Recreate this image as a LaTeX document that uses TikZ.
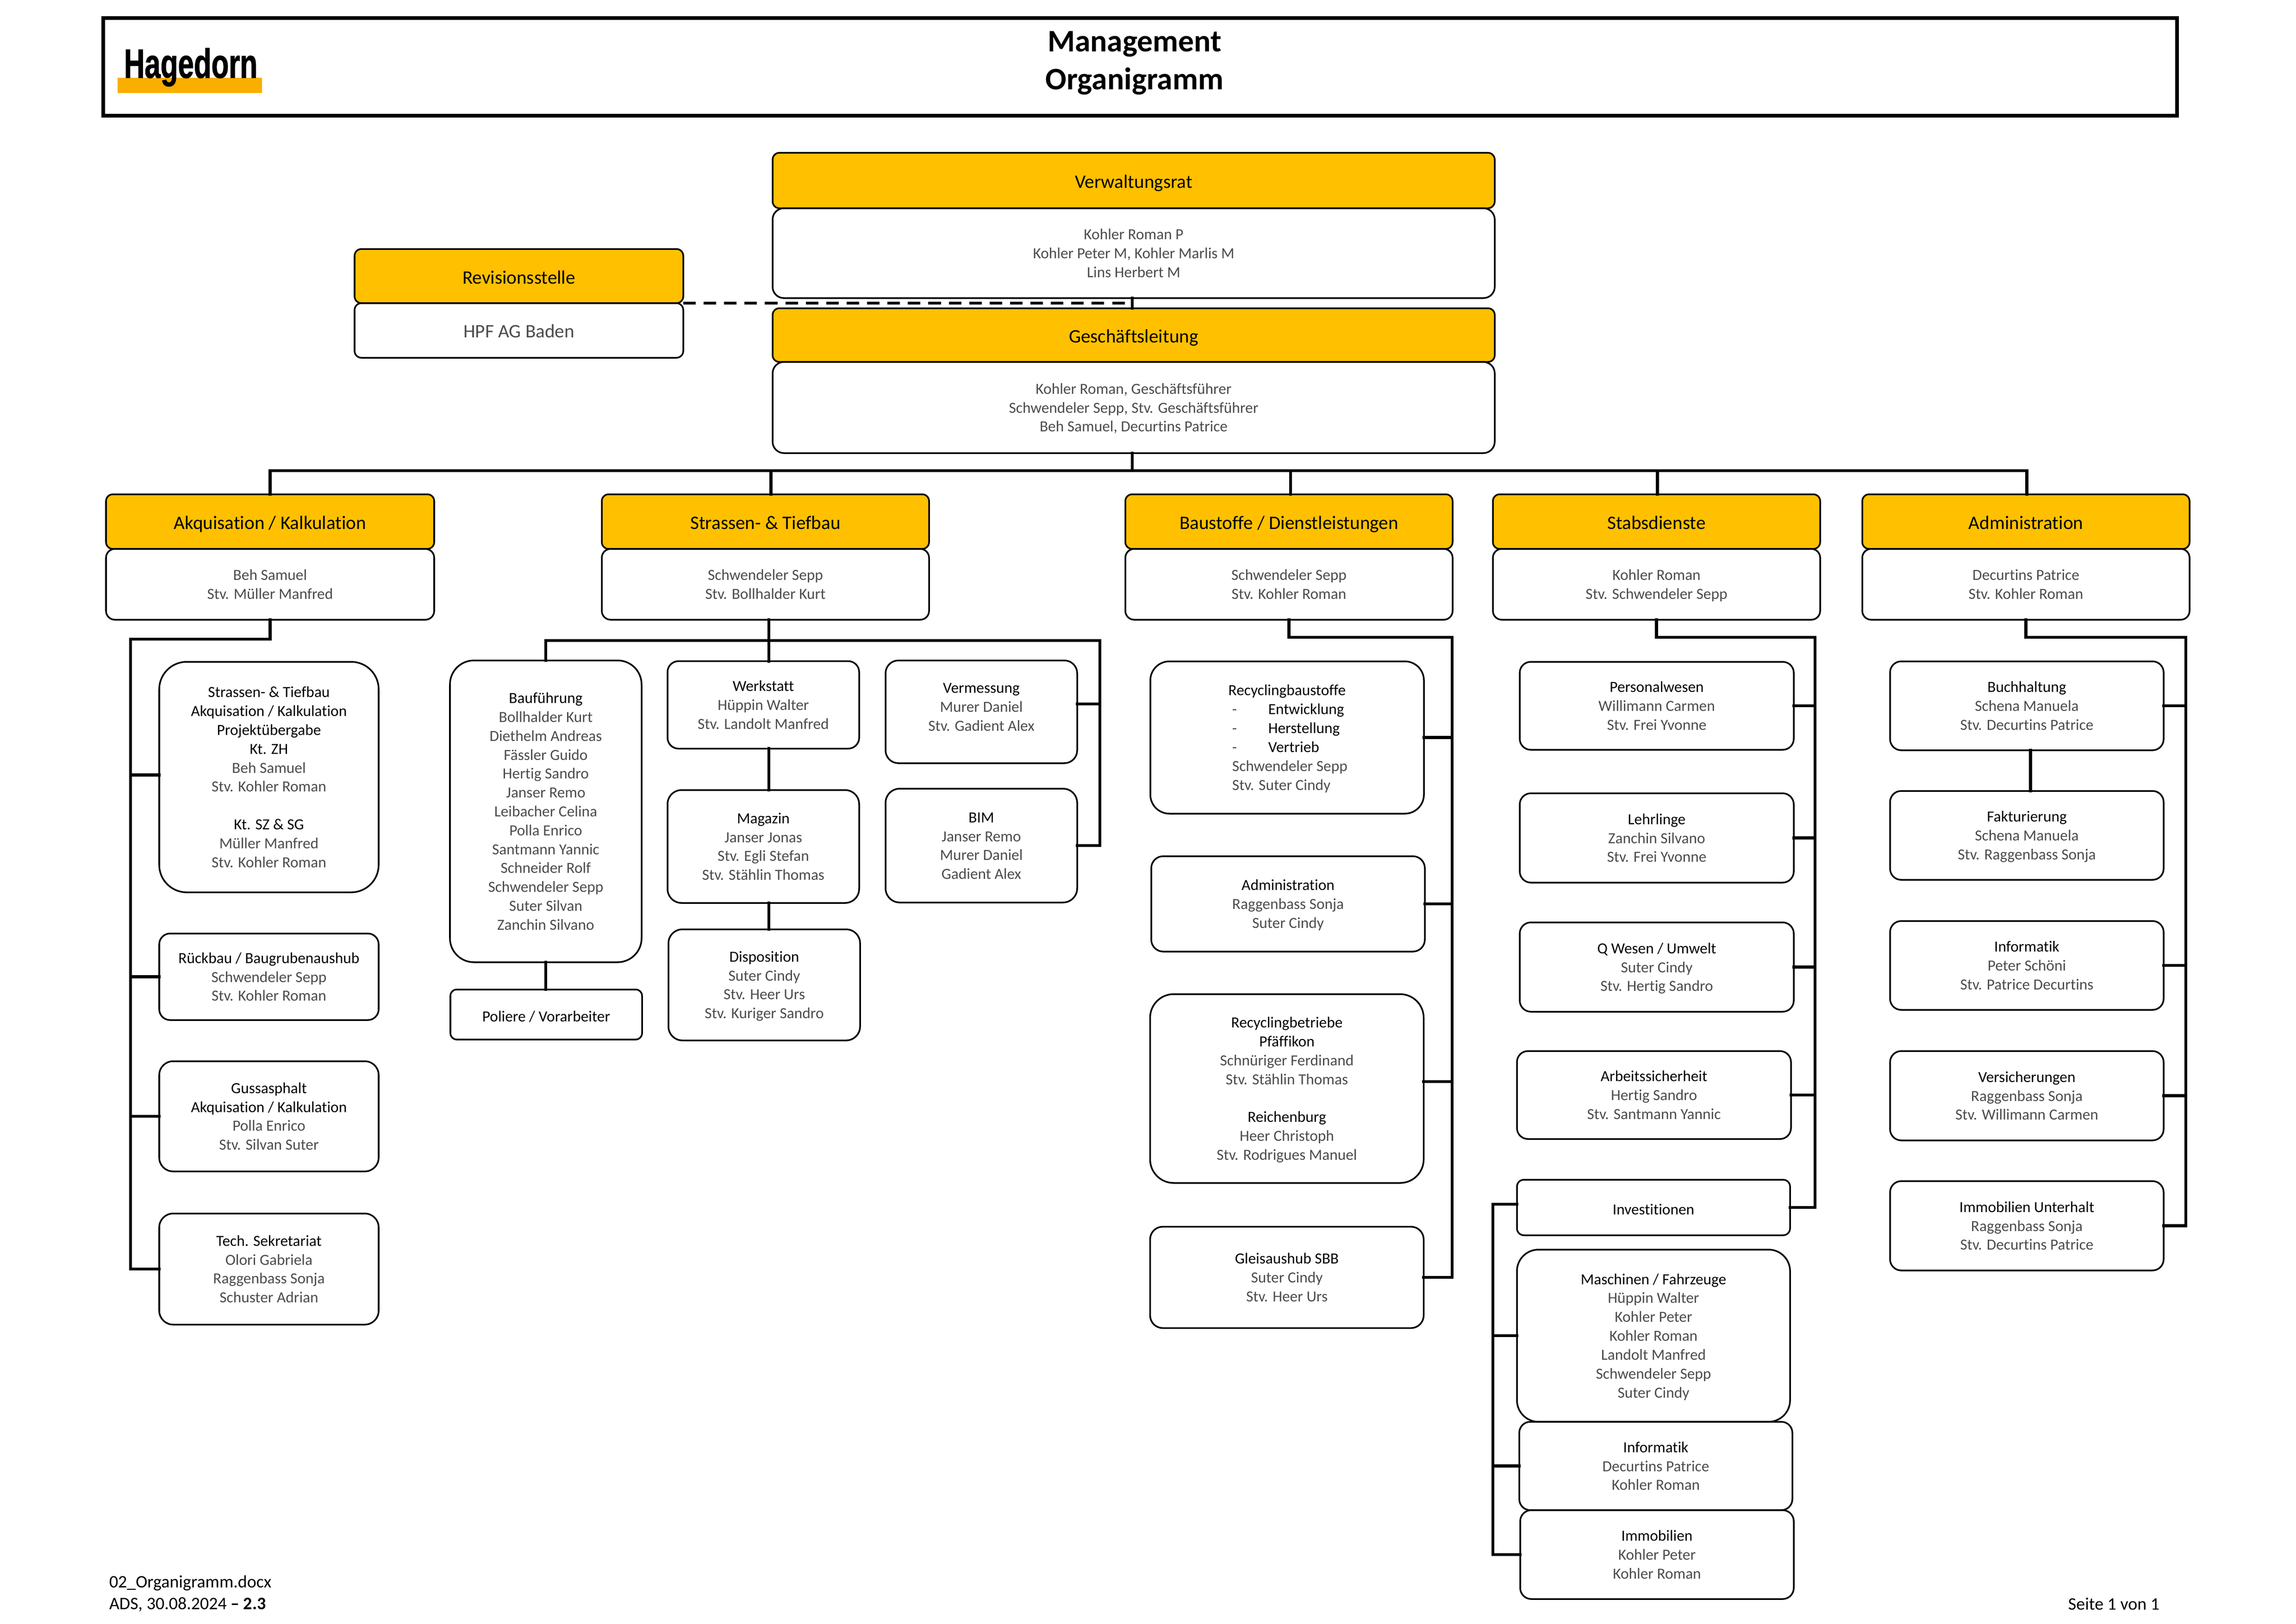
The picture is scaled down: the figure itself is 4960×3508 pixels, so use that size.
\documentclass[tikz,border=0pt]{standalone}
\usepackage{fontspec}
\setmainfont[Ligatures=NoCommon]{Carlito}
\newfontfamily\logofont[BoldFeatures={FakeBold=1.5}]{Liberation Sans}
\usetikzlibrary{positioning}
\definecolor{headyellow}{HTML}{FFC000}
\definecolor{logoorange}{HTML}{F9AE00}
\definecolor{namegrey}{gray}{0.3}
\newcommand{\ts}{\rule{0pt}{5pt}}
\newcommand{\hd}[1]{\ts\textcolor{black}{#1}}

\begin{document}
\begin{tikzpicture}[x=0.17pt, y=-0.17pt,
  wh/.style 2 args={minimum width=#1*0.17pt, minimum height=#2*0.17pt, rounded corners={0.125*min(#1,#2)*0.17pt}},
  block/.style={rectangle, draw, line width=0.6pt, fill=white, align=center, inner sep=0pt, outer sep=0pt, text=namegrey, font=\fontsize{5.67}{6.94}\selectfont, execute at begin node={\rule{0pt}{6.4pt}}, execute at end node={\rule[-1.1pt]{0pt}{1.1pt}}},
  head/.style={block, fill=headyellow, text=black, font=\fontsize{7}{8.5}\selectfont, execute at begin node={\rule{0pt}{6.7pt}}},
  conn/.style={line width=1.15pt, line cap=rect},
  plain/.style={inner sep=0pt, outer sep=0pt, align=left, font=\fontsize{6.45}{8}\selectfont},
]
   \useasboundingbox (0,0) rectangle (4960,3508);

   % title bar
   \node[draw, line width=1.4pt, minimum width=4480*0.17pt, minimum height=211*0.17pt, inner sep=0pt] (frame) at (2463,144.5) {};
   \node[align=center, inner sep=0pt, font=\fontsize{11.5}{14}\selectfont\bfseries] (title) at (2451,136) {Management\\Organigramm};
   \node[fill=logoorange, minimum width=312*0.17pt, minimum height=33*0.17pt, inner sep=0pt] (logobar) at (410,184.5) {};
   \node[inner sep=0pt, font=\logofont\bfseries\fontsize{15}{15}\selectfont, anchor=base] (logo) at (412,168) {\scalebox{0.7}[1]{Hagedorn}};

   % top of the chart
   \node[head, wh={1560}{120}] (vrh) at (2449,390) {Verwaltungsrat};
   \node[block, wh={1560}{194}, below=0pt of vrh] (vrb) {\ts Kohler Roman P\\Kohler Peter M, Kohler Marlis M\\Lins Herbert M};
   \node[head, wh={710}{117}] (revh) at (1121,596.5) {Revisionsstelle};
   \node[block, wh={710}{118}, below=0pt of revh, font=\fontsize{7}{8.5}\selectfont] (revb) {HPF AG Baden};
   \node[head, wh={1560}{116}] (glh) at (2449,724) {Geschäftsleitung};
   \node[block, wh={1560}{197}, below=0pt of glh] (glb) {\ts Kohler Roman, Geschäftsführer\\Schwendeler Sepp, Stv. Geschäftsführer\\Beh Samuel, Decurtins Patrice};

   % departments
   \node[head, wh={709}{118}] (akqh) at (583.5,1127) {Akquisation / Kalkulation};
   \node[block, wh={709}{153}, below=0pt of akqh] (akqb) {\ts Beh Samuel\\Stv. Müller Manfred};
   \node[head, wh={707}{118}] (strh) at (1653.5,1127) {Strassen- \& Tiefbau};
   \node[block, wh={707}{153}, below=0pt of strh] (strb) {\ts Schwendeler Sepp\\Stv. Bollhalder Kurt};
   \node[head, wh={707}{118}] (bsth) at (2784.5,1127) {Baustoffe / Dienstleistungen};
   \node[block, wh={707}{153}, below=0pt of bsth] (bstb) {\ts Schwendeler Sepp\\Stv. Kohler Roman};
   \node[head, wh={707}{118}] (stbh) at (3578.5,1127) {Stabsdienste};
   \node[block, wh={707}{153}, below=0pt of stbh] (stbb) {\ts Kohler Roman\\Stv. Schwendeler Sepp};
   \node[head, wh={707}{118}] (admh) at (4376.5,1127) {Administration};
   \node[block, wh={707}{153}, below=0pt of admh] (admb) {\ts Decurtins Patrice\\Stv. Kohler Roman};

   % Akquisation / Kalkulation
   \node[block, wh={474}{498}] (akq1) at (581,1679) {\hd{Strassen- \& Tiefbau}\\\hd{Akquisation / Kalkulation}\\\hd{Projektübergabe}\\\hd{Kt. ZH}\\Beh Samuel\\Stv. Kohler Roman\\[6.94pt]\hd{Kt. SZ \& SG}\\Müller Manfred\\Stv. Kohler Roman};
   \node[block, wh={474}{187}] (akq2) at (581,2110.5) {\hd{Rückbau / Baugrubenaushub}\\Schwendeler Sepp\\Stv. Kohler Roman};
   \node[block, wh={474}{238}] (akq3) at (581,2412) {\hd{Gussasphalt}\\\hd{Akquisation / Kalkulation}\\Polla Enrico\\Stv. Silvan Suter};
   \node[block, wh={474}{240}] (akq4) at (581,2742) {\hd{Tech. Sekretariat}\\Olori Gabriela\\Raggenbass Sonja\\Schuster Adrian};

   % Strassen- & Tiefbau
   \node[block, wh={414}{652}] (bfu) at (1179,1753) {\hd{Bauführung}\\Bollhalder Kurt\\Diethelm Andreas\\Fässler Guido\\Hertig Sandro\\Janser Remo\\Leibacher Celina\\Polla Enrico\\Santmann Yannic\\Schneider Rolf\\Schwendeler Sepp\\Suter Silvan\\Zanchin Silvano};
   \node[block, wh={414}{108}] (pol) at (1180,2192) {\hd{Poliere / Vorarbeiter}};
   \node[block, wh={414}{189}] (wer) at (1649,1523) {\hd{Werkstatt}\\Hüppin Walter\\Stv. Landolt Manfred};
   \node[block, wh={414}{244}] (mag) at (1649,1829) {\hd{Magazin}\\Janser Jonas\\Stv. Egli Stefan\\Stv. Stählin Thomas};
   \node[block, wh={414}{240}] (dis) at (1651,2128) {\hd{Disposition}\\Suter Cindy\\Stv. Heer Urs\\Stv. Kuriger Sandro};
   \node[block, wh={414}{222}] (vrm) at (2120,1538) {\hd{Vermessung}\\Murer Daniel\\Stv. Gadient Alex\\[-3.1pt]\mbox{}};
   \node[block, wh={414}{246}] (bim) at (2120,1827) {\hd{BIM}\\Janser Remo\\Murer Daniel\\Gadient Alex};

   % Baustoffe / Dienstleistungen
   \node[block, wh={591}{329}, align=left] (rec) at (2780.5,1593.5) {\hspace*{0.6pt}\hd{Recyclingbaustoffe}\\\hspace*{2pt}-\hspace{11.5pt}\hd{Entwicklung}\\\hspace*{2pt}-\hspace{11.5pt}\hd{Herstellung}\\\hspace*{2pt}-\hspace{11.5pt}\hd{Vertrieb}\\\hspace*{2pt}Schwendeler Sepp\\\hspace*{2pt}Stv. Suter Cindy};
   \node[block, wh={591}{206}] (bad) at (2782.5,1953) {\hd{Administration}\\Raggenbass Sonja\\Suter Cindy};
   \node[block, wh={591}{408}] (rbt) at (2780,2352) {\hd{Recyclingbetriebe}\\\hd{Pfäffikon}\\Schnüriger Ferdinand\\Stv. Stählin Thomas\\[6.94pt]\hd{Reichenburg}\\Heer Christoph\\Stv. Rodrigues Manuel};
   \node[block, wh={591}{219}] (gle) at (2780,2760) {\hd{Gleisaushub SBB}\\Suter Cindy\\Stv. Heer Urs};

   % Stabsdienste
   \node[block, wh={592}{190}] (per) at (3579,1525) {\hd{Personalwesen}\\Willimann Carmen\\Stv. Frei Yvonne};
   \node[block, wh={592}{193}] (leh) at (3579,1810.5) {\hd{Lehrlinge}\\Zanchin Silvano\\Stv. Frei Yvonne};
   \node[block, wh={592}{193}] (qwe) at (3579,2089.5) {\hd{Q Wesen / Umwelt}\\Suter Cindy\\Stv. Hertig Sandro};
   \node[block, wh={592}{190}] (arb) at (3573,2366) {\hd{Arbeitssicherheit}\\Hertig Sandro\\Stv. Santmann Yannic};
   \node[block, wh={590}{120}] (inv) at (3572,2609) {\hd{Investitionen}};
   \node[block, wh={590}{372}] (mas) at (3572,2886) {\hd{Maschinen / Fahrzeuge}\\Hüppin Walter\\Kohler Peter\\Kohler Roman\\Landolt Manfred\\Schwendeler Sepp\\Suter Cindy};
   \node[block, wh={590}{191}] (inf) at (3577,3167.5) {\hd{Informatik}\\Decurtins Patrice\\Kohler Roman};
   \node[block, wh={591}{192}] (imm) at (3579.5,3359) {\hd{Immobilien}\\Kohler Peter\\Kohler Roman};

   % Administration
   \node[block, wh={591}{192}] (buc) at (4378.5,1525) {\hd{Buchhaltung}\\Schena Manuela\\Stv. Decurtins Patrice};
   \node[block, wh={591}{192}] (fak) at (4378.5,1805) {\hd{Fakturierung}\\Schena Manuela\\Stv. Raggenbass Sonja};
   \node[block, wh={591}{192}] (ainf) at (4378.5,2086) {\hd{Informatik}\\Peter Schöni\\Stv. Patrice Decurtins};
   \node[block, wh={591}{193}] (vers) at (4378.5,2367.5) {\hd{Versicherungen}\\Raggenbass Sonja\\Stv. Willimann Carmen};
   \node[block, wh={591}{193}] (aimm) at (4378.5,2648.5) {\hd{Immobilien Unterhalt}\\Raggenbass Sonja\\Stv. Decurtins Patrice};

   % footer
   \node[plain, anchor=west] (docname) at (236,3443) {02\_Organigramm.docx\\ADS, 30.08.2024 \textbf{– 2.3}};
   \node[plain, anchor=east] (pageno) at (4665,3466) {Seite 1 von 1};

   % connectors, top
   \coordinate (topbus) at (2446,1017);
   \coordinate (sbus) at (1661,1384);
   \coordinate (srgt) at (2376,1384);
   \coordinate (brail) at (3137,1377);
   \coordinate (srail) at (3921,1377);
   \coordinate (arail) at (4722,1377);
   \coordinate (qrail) at (282,1381);
   \coordinate (irail) at (3225,2602);
   \draw[line width=1.1pt, dash pattern=on 4.6pt off 2.9pt] (revh.south east) -- (revh.south east -| topbus);
   \draw[conn] (topbus |- vrb.south) -- (topbus |- glh.north);
   \draw[conn] (topbus |- glb.south) -- (topbus);
   \draw[conn] (akqh.north |- topbus) -- ([xshift=0.3pt]admh.north |- topbus);
   \draw[conn] (akqh.north) -- (akqh.north |- topbus);
   \draw[conn] ([xshift=2pt]strh.north) -- ([xshift=2pt]strh.north |- topbus);
   \draw[conn] ([xshift=0.6pt]bsth.north) -- ([xshift=0.6pt]bsth.north |- topbus);
   \draw[conn] ([xshift=0.3pt]stbh.north) -- ([xshift=0.3pt]stbh.north |- topbus);
   \draw[conn] ([xshift=0.3pt]admh.north) -- ([xshift=0.3pt]admh.north |- topbus);

   % connectors, Akquisation
   \draw[conn] (akqb.south) -- (akqb.south |- qrail) -- (qrail) -- (qrail |- akq4.west) -- (akq4.west);
   \draw[conn] ([yshift=0.8pt]akq1.west) -- ([yshift=0.8pt]akq1.west -| qrail);
   \draw[conn] (qrail |- akq2.west) -- (akq2.west);
   \draw[conn] (qrail |- akq3.west) -- (akq3.west);

   % connectors, Strassen
   \draw[conn] (sbus |- strb.south) -- (sbus |- wer.north);
   \draw[conn] (bfu.north) -- (bfu.north |- sbus) -- (srgt) -- (srgt |- bim.east) -- (bim.east);
   \draw[conn] ([yshift=2.9pt]vrm.east) -- ([yshift=2.9pt]vrm.east -| srgt);
   \draw[conn] (bfu.south) -- (bfu.south |- pol.north);
   \draw[conn] (sbus |- wer.south) -- (sbus |- mag.north);
   \draw[conn] (sbus |- mag.south) -- (sbus |- dis.north);

   % connectors, Baustoffe
   \draw[conn] (bstb.south) -- (bstb.south |- brail) -- (brail) -- (brail |- gle.east) -- (gle.east);
   \draw[conn] (rec.east) -- (brail |- rec.east);
   \draw[conn] (bad.east) -- (brail |- bad.east);
   \draw[conn] ([yshift=2.55pt]rbt.east) -- ([yshift=2.55pt]rbt.east -| brail);

   % connectors, Stabsdienste
   \draw[conn] (stbb.south) -- (stbb.south |- srail) -- (srail) -- (srail |- inv.east) -- (inv.east);
   \draw[conn] (per.east) -- (srail |- per.east);
   \draw[conn] (leh.east) -- (srail |- leh.east);
   \draw[conn] (qwe.east) -- (srail |- qwe.east);
   \draw[conn] (arb.east) -- (srail |- arb.east);
   \draw[conn] (inv.west |- irail) -- (irail) -- (irail |- imm.west) -- (imm.west);
   \draw[conn] (irail |- mas.west) -- (mas.west);
   \draw[conn] (irail |- inf.west) -- (inf.west);

   % connectors, Administration
   \draw[conn] (admb.south) -- (admb.south |- arail) -- (arail) -- (arail |- aimm.east) -- (aimm.east);
   \draw[conn] (buc.east) -- (arail |- buc.east);
   \draw[conn] (ainf.east) -- (arail |- ainf.east);
   \draw[conn] (vers.east) -- (arail |- vers.east);
   \draw[conn] ([xshift=1.3pt]buc.south) -- ([xshift=1.3pt]fak.north);
\end{tikzpicture}
\end{document}
